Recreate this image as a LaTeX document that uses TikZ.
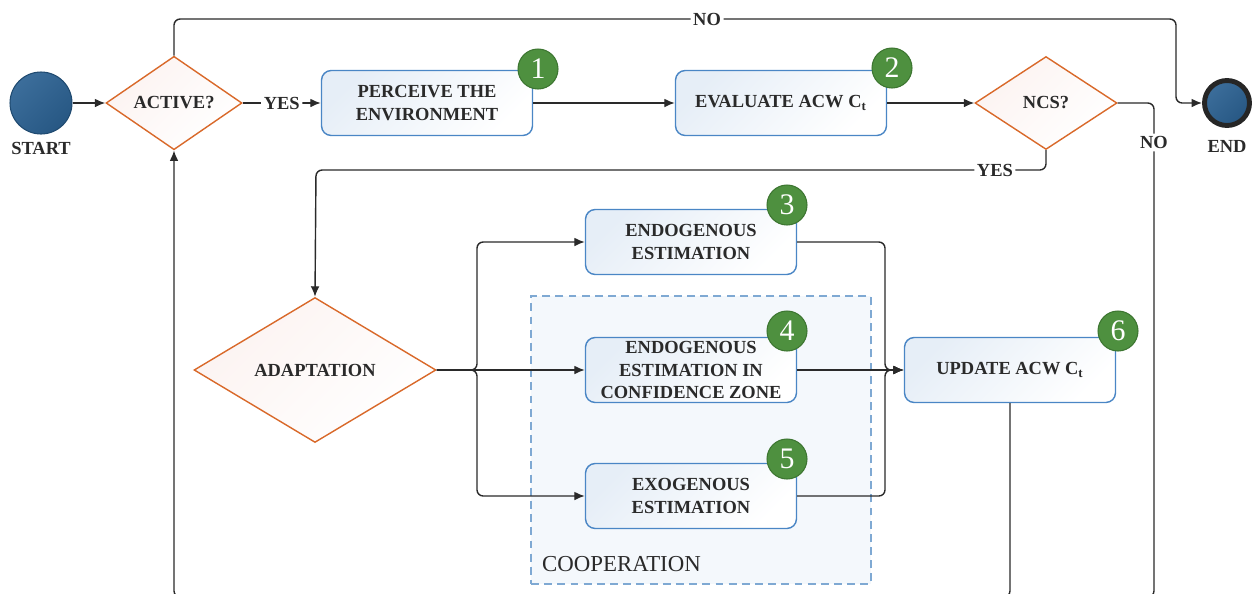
\documentclass[tikz,border=0pt]{standalone}
\usepackage{fontspec}
\setmainfont{Liberation Serif}
\newfontfamily\tmsfont{Liberation Serif}
\usetikzlibrary{arrows.meta,shapes.geometric,positioning,calc}

\definecolor{boxblue}{HTML}{4A86C5}
\definecolor{boxfill}{HTML}{E6EEF7}
\definecolor{condorange}{HTML}{D9692A}
\definecolor{condfill}{HTML}{FCF3F1}
\definecolor{termblue}{HTML}{2B6192}
\definecolor{termdark}{HTML}{1F4A70}
\definecolor{numgreen}{HTML}{4E903F}
\definecolor{numdark}{HTML}{3D7631}
\definecolor{coopfill}{HTML}{F4F8FC}
\definecolor{coopline}{HTML}{7FA9D3}
\definecolor{linegray}{HTML}{2A2A2A}

\newcommand\lbl{\tmsfont\fontsize{10.5}{13}\selectfont\bfseries}

\begin{document}
\begin{tikzpicture}
[x=0.02cm,y=-0.02cm,
line/.style={draw=linegray,line width=0.8pt,rounded corners=3.5pt,
  -{Latex[length=6pt,width=5pt]}},
lab/.style={font=\lbl,text=linegray,fill=white,inner sep=1.5pt},
task/.style={rectangle,rounded corners=5.5pt,draw=boxblue,line width=0.8pt,
  top color=boxfill,bottom color=white,shading angle=45,
  minimum width=4.22cm,minimum height=1.3cm,inner sep=1pt,align=center,
  font=\lbl,text=linegray},
cond/.style={diamond,draw=condorange,line width=0.8pt,
  top color=condfill,bottom color=white,shading angle=45,
  inner sep=0pt,font=\lbl,text=linegray},
term/.style={circle,draw=termdark,line width=0.6pt,
  top color=termblue!92!white,bottom color=termblue!90!black,shading angle=45,
  minimum size=1.24cm},
num/.style={circle,draw=numdark,line width=0.6pt,fill=numgreen,text=white,
  minimum size=0.8cm,inner sep=0pt,font=\tmsfont\fontsize{17}{17}\selectfont}]
\useasboundingbox (0,0) rectangle (1252,593);

% cooperation zone
\node[rectangle,draw=coopline,fill=coopfill,line width=0.8pt,
  dash pattern=on 4.5pt off 3pt,minimum width=6.8cm,minimum height=5.76cm]
  at (701,440) (coop) {};
\node[anchor=west,font=\tmsfont\fontsize{13}{14}\selectfont,text=linegray]
  at (536,564) (coopl) {COOPERATION};

% top row
\node[term]                                       at (41,103)   (start) {};
\node[font=\lbl,text=linegray]                    at (41,148)   (startl) {START};
\node[cond,minimum width=2.72cm,minimum height=1.68cm] at (174,103) (act) {ACTIVE?};
\node[task]                                       at (427,103)  (perc) {PERCEIVE THE\\ENVIRONMENT};
\node[task]                                       at (781,103)  (eval) {EVALUATE ACW C\textsubscript{t}};
\node[cond,minimum width=2.84cm,minimum height=1.86cm] at (1046,103) (ncs) {NCS?};
\node[circle,draw=black!85,line width=2.8pt,top color=termblue!92!white,
  bottom color=termblue!90!black,shading angle=45,minimum size=0.9cm] at (1227,103) (end) {};
\node[font=\lbl,text=linegray]                    at (1227,146) (endl) {END};

% adaptation branch
\node[cond,minimum width=4.84cm,minimum height=2.9cm] at (315,370) (adapt) {ADAPTATION};
\node[task] at (691,242) (endo) {ENDOGENOUS\\ESTIMATION};
\node[task] at (691,370) (conf) {ENDOGENOUS\\ESTIMATION IN\\CONFIDENCE ZONE};
\node[task] at (691,496) (exo)  {EXOGENOUS\\ESTIMATION};
\node[task] at (1010,370) (upd) {UPDATE ACW C\textsubscript{t}};

% step numbers
\node[num] at (538,69)   (n1) {1};
\node[num] at (892,68)   (n2) {2};
\node[num] at (787,205)  (n3) {3};
\node[num] at (787,331)  (n4) {4};
\node[num] at (787,459)  (n5) {5};
\node[num] at (1118,331) (n6) {6};

% bends
\coordinate (topR)  at (1176,19);
\coordinate (yesC)  at (316,170);
\coordinate (split) at (477,370);
\coordinate (merge) at (885,370);
\coordinate (noB)   at (1154,597);
\coordinate (botL)  at (174,597);

\draw[line] (start) -- (act.west);
\draw[line] (act.east) -- node[lab]{YES} (perc.west);
\draw[line] (perc.east) -- (eval.west);
\draw[line] (eval.east) -- (ncs.west);
\draw[line] (act.north) |- node[lab,pos=0.766]{NO} (topR) |- (end.west);
\draw[line,-] (ncs.east) -| node[lab,pos=0.54]{NO} (noB) -- (upd.south |- noB);
\draw[line] (ncs.south) |- node[lab,pos=0.535]{YES} (yesC) -- (adapt.north);
\draw[line] (adapt.east) -- (split) |- (endo.west);
\draw[line] (adapt.east) -- (conf.west);
\draw[line] (adapt.east) -- (split) |- (exo.west);
\draw[line] (endo.east) -| (merge) -- (upd.west);
\draw[line] (exo.east) -| (merge) -- (upd.west);
\draw[line] (conf.east) -- (upd.west);
\draw[line] (upd.south) |- (botL) -- (act.south);
\end{tikzpicture}
\end{document}
